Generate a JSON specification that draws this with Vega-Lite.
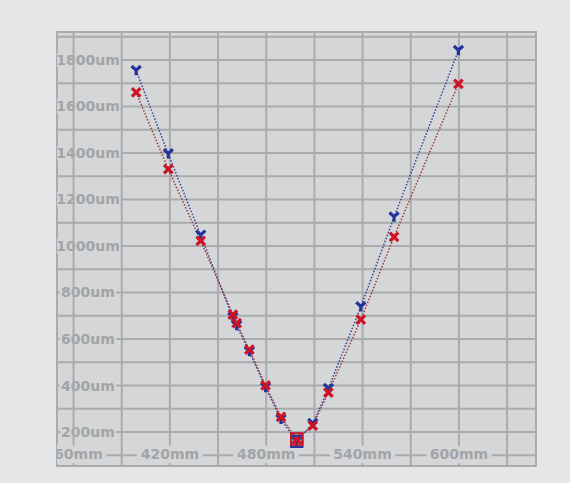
{
  "$schema": "https://vega.github.io/schema/vega-lite/v6.json",
  "width": 479,
  "height": 434,
  "autosize": {"type": "none"},
  "padding": {"left": 57, "top": 32, "right": 34, "bottom": 17},
  "background": "#e5e6e7",
  "config": {"view": {"fill": "#d4d6d8", "stroke": "#a9abac", "strokeWidth": 2}},
  "datasets": {
    "hgrid": [{"um": 100}, {"um": 200}, {"um": 300}, {"um": 400}, {"um": 500}, {"um": 600}, {"um": 700}, {"um": 800}, {"um": 900}, {"um": 1000}, {"um": 1100}, {"um": 1200}, {"um": 1300}, {"um": 1400}, {"um": 1500}, {"um": 1600}, {"um": 1700}, {"um": 1800}, {"um": 1900}],
    "vgrid": [{"mm": 360}, {"mm": 390}, {"mm": 420}, {"mm": 450}, {"mm": 480}, {"mm": 510}, {"mm": 540}, {"mm": 570}, {"mm": 600}, {"mm": 630}],
    "ylabels": [{"um": 200, "label": "200um"}, {"um": 400, "label": "400um"}, {"um": 600, "label": "600um"}, {"um": 800, "label": "800um"}, {"um": 1000, "label": "1000um"}, {"um": 1200, "label": "1200um"}, {"um": 1400, "label": "1400um"}, {"um": 1600, "label": "1600um"}, {"um": 1800, "label": "1800um"}],
    "xlabels": [{"mm": 360, "label": "360mm"}, {"mm": 420, "label": "420mm"}, {"mm": 480, "label": "480mm"}, {"mm": 540, "label": "540mm"}, {"mm": 600, "label": "600mm"}],
    "points": [
      {"mm": 399, "um": 1754, "series": "blue", "min": false},
      {"mm": 419, "um": 1396, "series": "blue", "min": false},
      {"mm": 439.2, "um": 1046, "series": "blue", "min": false},
      {"mm": 459.2, "um": 693, "series": "blue", "min": false},
      {"mm": 461.6, "um": 657, "series": "blue", "min": false},
      {"mm": 469.5, "um": 546, "series": "blue", "min": false},
      {"mm": 479.6, "um": 391, "series": "blue", "min": false},
      {"mm": 489.2, "um": 254, "series": "blue", "min": false},
      {"mm": 499, "um": 160, "series": "blue", "min": true},
      {"mm": 509, "um": 236, "series": "blue", "min": false},
      {"mm": 518.7, "um": 387, "series": "blue", "min": false},
      {"mm": 538.9, "um": 738, "series": "blue", "min": false},
      {"mm": 559.6, "um": 1124, "series": "blue", "min": false},
      {"mm": 599.7, "um": 1840, "series": "blue", "min": false},
      {"mm": 399, "um": 1660, "series": "red", "min": false},
      {"mm": 419, "um": 1330, "series": "red", "min": false},
      {"mm": 439.2, "um": 1022, "series": "red", "min": false},
      {"mm": 459.2, "um": 705, "series": "red", "min": false},
      {"mm": 461.6, "um": 668, "series": "red", "min": false},
      {"mm": 469.5, "um": 554, "series": "red", "min": false},
      {"mm": 479.6, "um": 401, "series": "red", "min": false},
      {"mm": 489.2, "um": 265, "series": "red", "min": false},
      {"mm": 499, "um": 170, "series": "red", "min": true},
      {"mm": 509, "um": 228, "series": "red", "min": false},
      {"mm": 518.7, "um": 370, "series": "red", "min": false},
      {"mm": 538.9, "um": 683, "series": "red", "min": false},
      {"mm": 559.6, "um": 1039, "series": "red", "min": false},
      {"mm": 599.7, "um": 1697, "series": "red", "min": false}
    ]
  },
  "layer": [
    {
      "data": {"name": "hgrid"},
      "mark": {"type": "rule", "color": "#a9abac", "strokeWidth": 2},
      "encoding": {
        "y": {"field": "um", "type": "quantitative", "scale": {"domain": [54, 1920], "nice": false, "zero": false}, "axis": null}
      }
    },
    {
      "data": {"name": "ylabels"},
      "mark": {"type": "text", "font": "DejaVu Sans", "fontWeight": "bold", "fontSize": 14, "align": "center", "baseline": "middle", "dy": 1, "fill": "#d4d6d8", "stroke": "#d4d6d8", "strokeWidth": 5, "strokeJoin": "round", "clip": true},
      "encoding": {
        "x": {"datum": 369, "type": "quantitative", "scale": {"domain": [349.7, 648], "nice": false, "zero": false}, "axis": null},
        "y": {"field": "um", "type": "quantitative", "axis": null},
        "text": {"field": "label"}
      }
    },
    {
      "data": {"name": "ylabels"},
      "mark": {"type": "text", "font": "DejaVu Sans", "fontWeight": "bold", "fontSize": 14, "align": "center", "baseline": "middle", "dy": 1, "color": "#a2a4a6", "clip": true},
      "encoding": {
        "x": {"datum": 369, "type": "quantitative", "axis": null},
        "y": {"field": "um", "type": "quantitative", "axis": null},
        "text": {"field": "label"}
      }
    },
    {
      "data": {"name": "vgrid"},
      "mark": {"type": "rule", "color": "#a9abac", "strokeWidth": 2},
      "encoding": {
        "x": {"field": "mm", "type": "quantitative", "axis": null}
      }
    },
    {
      "data": {"name": "xlabels"},
      "mark": {"type": "text", "font": "DejaVu Sans", "fontWeight": "bold", "fontSize": 14, "align": "center", "baseline": "middle", "fill": "#d4d6d8", "stroke": "#d4d6d8", "strokeWidth": 9, "strokeJoin": "round", "clip": true},
      "encoding": {
        "x": {"field": "mm", "type": "quantitative", "axis": null},
        "y": {"datum": 100, "type": "quantitative", "axis": null},
        "text": {"field": "label"}
      }
    },
    {
      "data": {"name": "xlabels"},
      "mark": {"type": "text", "font": "DejaVu Sans", "fontWeight": "bold", "fontSize": 14, "align": "center", "baseline": "middle", "color": "#a2a4a6", "clip": true},
      "encoding": {
        "x": {"field": "mm", "type": "quantitative", "axis": null},
        "y": {"datum": 100, "type": "quantitative", "axis": null},
        "text": {"field": "label"}
      }
    },
    {
      "data": {"name": "points"},
      "mark": {"type": "line", "strokeWidth": 1.5, "strokeDash": [1.5, 1.7]},
      "encoding": {
        "x": {"field": "mm", "type": "quantitative", "axis": null},
        "y": {"field": "um", "type": "quantitative", "axis": null},
        "color": {"field": "series", "type": "nominal", "scale": {"domain": ["blue", "red"], "range": ["#3c4099", "#9c3c3c"]}, "legend": null}
      }
    },
    {
      "data": {"name": "points"},
      "transform": [{"filter": "datum.series === 'blue'"}],
      "mark": {"type": "point", "shape": "M-1,-1L0,-0.1L1,-1M0,-0.1L0,1", "filled": false, "stroke": "#22339e", "strokeWidth": 3.2, "size": 85, "opacity": 1},
      "encoding": {
        "x": {"field": "mm", "type": "quantitative", "axis": null},
        "y": {"field": "um", "type": "quantitative", "axis": null}
      }
    },
    {
      "data": {"name": "points"},
      "transform": [{"filter": "datum.series === 'red'"}],
      "mark": {"type": "point", "shape": "M-1,-1L1,1M-1,1L1,-1", "filled": false, "stroke": "#cc1424", "strokeWidth": 3.2, "size": 72, "opacity": 1},
      "encoding": {
        "x": {"field": "mm", "type": "quantitative", "axis": null},
        "y": {"field": "um", "type": "quantitative", "axis": null}
      }
    },
    {
      "data": {"name": "points"},
      "transform": [{"filter": "datum.min"}],
      "mark": {"type": "point", "shape": "square", "filled": false, "strokeWidth": 2, "size": 130, "opacity": 1},
      "encoding": {
        "x": {"field": "mm", "type": "quantitative", "axis": null},
        "y": {"field": "um", "type": "quantitative", "axis": null},
        "stroke": {"field": "series", "type": "nominal", "scale": {"domain": ["blue", "red"], "range": ["#22339e", "#cc1424"]}, "legend": null},
        "order": {"field": "series", "sort": "ascending"}
      }
    }
  ]
}
